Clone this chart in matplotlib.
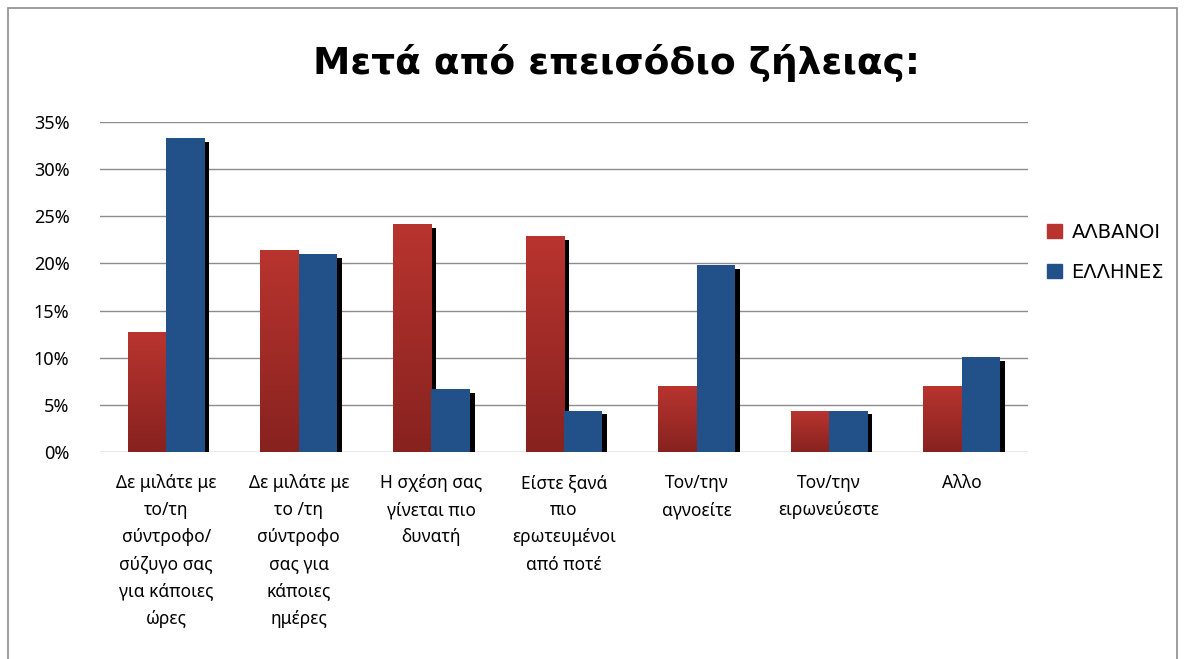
import matplotlib.pyplot as plt
import matplotlib.patches as mpatches
from matplotlib.ticker import PercentFormatter
from matplotlib.colors import LinearSegmentedColormap
import numpy as np

plt.rcParams['font.family'] = ['Noto Sans', 'DejaVu Sans']

categories = [
    "Δε μιλάτε με\nτο/τη\nσύντροφο/\nσύζυγο σας\nγια κάποιες\nώρες",
    "Δε μιλάτε με\nτο /τη\nσύντροφο\nσας για\nκάποιες\nημέρες",
    "Η σχέση σας\nγίνεται πιο\nδυνατή",
    "Είστε ξανά\nπιο\nερωτευμένοι\nαπό ποτέ",
    "Τον/την\nαγνοείτε",
    "Τον/την\nειρωνεύεστε",
    "Αλλο",
]
albanoi = [0.127, 0.214, 0.242, 0.229, 0.070, 0.043, 0.070]
ellines = [0.333, 0.210, 0.067, 0.044, 0.198, 0.044, 0.101]
series_names = ["ΑΛΒΑΝΟΙ", "ΕΛΛΗΝΕΣ"]

red_top = "#B9342F"
red_bottom = "#87221F"
blue = "#22518A"

fig = plt.figure(figsize=(11.85, 6.59), dpi=100)
ax = fig.add_axes([0.0844, 0.3141, 0.7831, 0.5008])

x = np.arange(len(categories))
w = 0.29

# shadows
sx, sy = 0.035, 0.004
ax.bar(x - w / 2 + sx, albanoi, w, bottom=-sy, color="black", zorder=1)
ax.bar(x + w / 2 + sx, ellines, w, bottom=-sy, color="black", zorder=1)

red_bars = ax.bar(x - w / 2, albanoi, w, color=red_top, zorder=2, linewidth=0)
blue_bars = ax.bar(x + w / 2, ellines, w, color=blue, zorder=3, linewidth=0)

# gradient on red bars
grad = np.linspace(0, 1, 256).reshape(-1, 1)
cmap = LinearSegmentedColormap.from_list("r", [red_bottom, red_top])
for b in red_bars:
    x0, y0 = b.get_x(), b.get_y()
    im = ax.imshow(grad, cmap=cmap, aspect="auto", origin="lower",
                   extent=[x0, x0 + b.get_width(), y0, y0 + b.get_height()], zorder=2.5)
    im.set_clip_path(b)

ax.set_xlim(-0.5, len(categories) - 0.5)
ax.set_ylim(0, 0.35)
ax.set_yticks(np.arange(0, 0.351, 0.05))
ax.yaxis.set_major_formatter(PercentFormatter(1.0, decimals=0))
ax.grid(axis="y", color="#8c8c8c", linewidth=1, zorder=0)
ax.set_axisbelow(True)
for s in ax.spines.values():
    s.set_visible(False)
ax.tick_params(axis="y", length=0, pad=22, labelsize=13)
ax.set_xticks(x)
ax.set_xticklabels(categories, fontsize=12.5, linespacing=1.65, va="top")
ax.tick_params(axis="x", length=0, pad=16)

fig.text(0.52, 0.905, "Μετά από επεισόδιο ζήλειας:", ha="center", va="center",
         fontsize=27, fontweight="bold", family=["DejaVu Sans"])

handles = [mpatches.Patch(color=red_top), mpatches.Patch(color=blue)]
fig.legend(handles, series_names, loc="center left", bbox_to_anchor=(0.869, 0.617),
           frameon=False, prop={"family": "DejaVu Sans", "size": 14},
           handlelength=0.75, handleheight=0.75,
           handletextpad=0.5, labelspacing=1.1)

fig.add_artist(mpatches.Rectangle((0.007, -0.01), 0.986, 0.998, transform=fig.transFigure,
                                  fill=False, edgecolor="#8c8c8c", linewidth=1.2))

fig.savefig("out.png", dpi=100)
